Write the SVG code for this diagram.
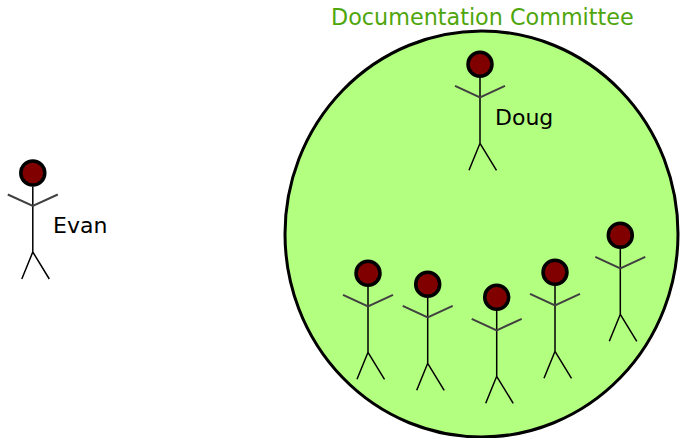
<svg xmlns="http://www.w3.org/2000/svg" xmlns:xlink="http://www.w3.org/1999/xlink" width="680" height="438" viewBox="0 0 680 438">
<style>
.label{font-family:"DejaVu Sans","Noto Sans",sans-serif;font-size:22px;fill:#000}
.title{font-family:"DejaVu Sans","Noto Sans",sans-serif;font-size:22.3px;fill:#4fa60c}
.head{fill:#800000;stroke:#000;stroke-width:3.5}
.arms{fill:none;stroke:#404040;stroke-width:2}
.limb{fill:none;stroke:#000;stroke-width:1.5}
.group{fill:#b3ff80;stroke:#000;stroke-width:3}
</style>
<defs>
<g id="person">
<path class="limb" d="M0,13.5 V79 M-11,106 L0,79 L16.5,106"/>
<path class="arms" d="M-25,21.5 L0,33 L25,21.5"/>
<circle class="head" cx="0" cy="0" r="12"/>
</g>
</defs>
<g id="committee">
<ellipse class="group" cx="481.5" cy="234" rx="196.5" ry="203"/>
<text class="title" x="331" y="25">Documentation Committee</text>
</g>
<g id="connectors"/>
<g id="evan">
<use xlink:href="#person" href="#person" transform="translate(32.8,173)"/>
<text class="label" x="53" y="233">Evan</text>
</g>
<g id="doug">
<use xlink:href="#person" href="#person" transform="translate(480,64.3)"/>
<text class="label" x="495" y="125">Doug</text>
</g>
<g id="member1"><use xlink:href="#person" href="#person" transform="translate(368,273.3)"/></g>
<g id="member2"><use xlink:href="#person" href="#person" transform="translate(427.7,284.3)"/></g>
<g id="member3"><use xlink:href="#person" href="#person" transform="translate(496.7,297.3)"/></g>
<g id="member4"><use xlink:href="#person" href="#person" transform="translate(555,272.3)"/></g>
<g id="member5"><use xlink:href="#person" href="#person" transform="translate(620.3,235.3)"/></g>
</svg>
